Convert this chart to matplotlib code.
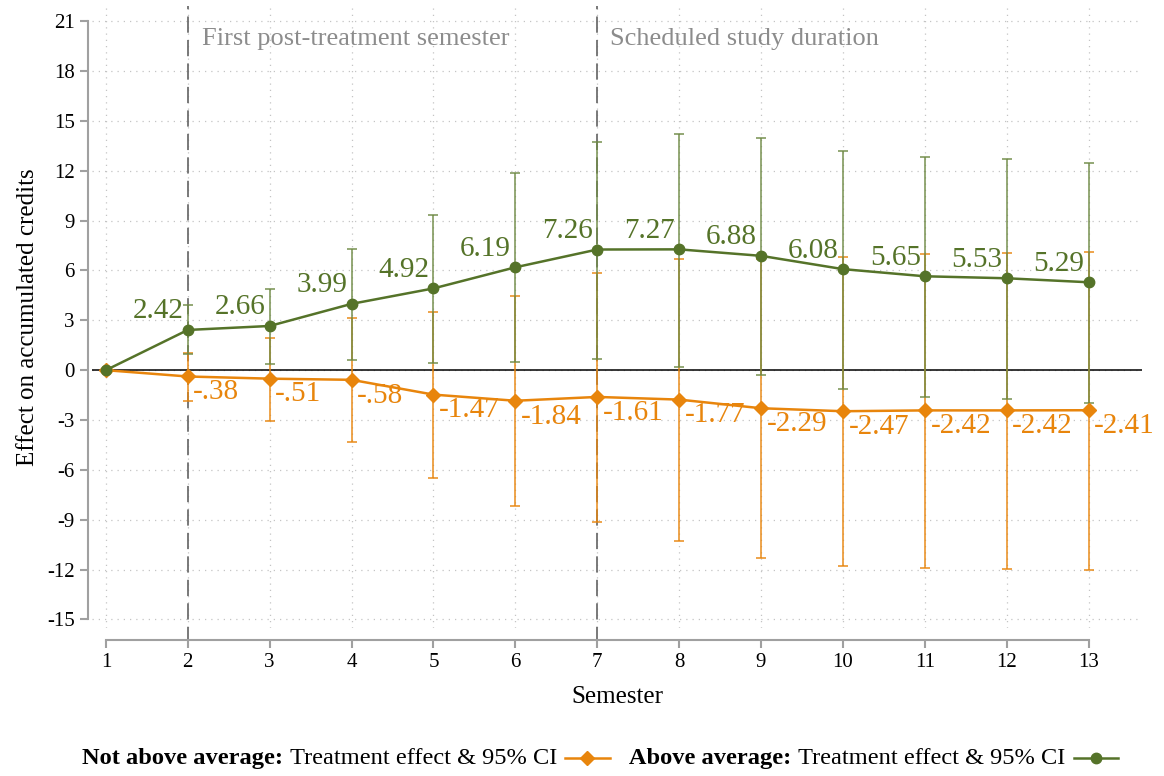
import numpy as np
import matplotlib
matplotlib.use("Agg")
import matplotlib.pyplot as plt
from matplotlib.lines import Line2D
from matplotlib.offsetbox import TextArea, DrawingArea, HPacker, AnchoredOffsetbox

plt.rcParams['font.family'] = ['Liberation Serif', 'DejaVu Serif']
plt.rcParams['axes.unicode_minus'] = False

# data
semester = np.arange(1, 14)
above = [0, 2.42, 2.66, 3.99, 4.92, 6.19, 7.26, 7.27, 6.88, 6.08, 5.65, 5.53, 5.29]
above_lo = [0, 1.0, 0.36, 0.6, 0.42, 0.48, 0.7, 0.2, -0.3, -1.14, -1.6, -1.72, -1.98]
above_hi = [0, 3.9, 4.86, 7.32, 9.32, 11.84, 13.74, 14.2, 13.96, 13.2, 12.8, 12.7, 12.46]
not_above = [0, -0.38, -0.51, -0.58, -1.47, -1.84, -1.61, -1.77, -2.29, -2.47, -2.42, -2.42, -2.41]
not_lo = [0, -1.84, -3.06, -4.34, -6.46, -8.18, -9.12, -10.28, -11.3, -11.8, -11.9, -11.98, -12.02]
not_hi = [0, 1.06, 1.96, 3.12, 3.48, 4.44, 5.84, 6.7, 6.7, 6.8, 7.0, 7.08, 7.12]
above_lbl = ["", "2.42", "2.66", "3.99", "4.92", "6.19", "7.26", "7.27", "6.88", "6.08", "5.65", "5.53", "5.29"]
not_lbl = ["", "-.38", "-.51", "-.58", "-1.47", "-1.84", "-1.61", "-1.77", "-2.29", "-2.47", "-2.42", "-2.42", "-2.41"]
yticks = np.arange(-15, 22, 3)

green = "#557329"
green_ci = "#6f8a45"
orange = "#e8850c"

fig = plt.figure(figsize=(11.64, 7.76), dpi=100)
ax = fig.add_axes([0.079, 0.191, 0.902, 0.801])

ax.set_xlim(0.83, 13.65)
ax.set_ylim(-15.5, 21.9)

# grid
for y in yticks:
    ax.axhline(y, color="#c4c4c4", lw=0.9, ls=(0, (1, 4)), zorder=0)
for x in semester:
    ax.axvline(x, color="#c4c4c4", lw=0.9, ls=(0, (1, 4)), zorder=0)

ax.axhline(0, color="black", lw=1.1, zorder=1)

for xv in [2, 7]:
    ax.axvline(xv, ymin=-0.025, color="#6e6e6e", lw=1.3, ls=(0, (9, 4)), clip_on=False, zorder=1)
ax.text(2.17, 19.9, "First post-treatment semester", color="#8c8c8c", fontsize=19, va="center", ha="left")
ax.text(7.15, 19.9, "Scheduled study duration", color="#8c8c8c", fontsize=19, va="center", ha="left")

# confidence intervals
nl = np.array(not_above)
ax.errorbar(semester, nl, yerr=[nl - np.array(not_lo), np.array(not_hi) - nl], fmt="none",
            ecolor=orange, elinewidth=1.3, capsize=3.5, capthick=1.3, alpha=0.8, zorder=2)
al = np.array(above)
ax.errorbar(semester, al, yerr=[al - np.array(above_lo), np.array(above_hi) - al], fmt="none",
            ecolor=green_ci, elinewidth=1.3, capsize=3.5, capthick=1.3, alpha=0.8, zorder=3)

ax.plot(semester, not_above, color=orange, lw=1.8, marker="D", ms=7, zorder=4)
ax.plot(semester, above, color=green, lw=1.8, marker="o", ms=7.5, zorder=5)

for x, y, t in zip(semester, above, above_lbl):
    if t:
        ax.annotate(t, (x, y), xytext=(-3, 4), textcoords="offset points",
                    ha="right", va="bottom", color=green, fontsize=21)
for x, y, t in zip(semester, not_above, not_lbl):
    if t:
        ax.annotate(t, (x, y), xytext=(4, -2), textcoords="offset points",
                    ha="left", va="top", color=orange, fontsize=21)

# axes styling
for s in ["top", "right"]:
    ax.spines[s].set_visible(False)
ax.spines["left"].set_bounds(-15, 21)
ax.spines["left"].set_position(("outward", 3))
ax.spines["bottom"].set_bounds(1, 13)
ax.spines["bottom"].set_position(("outward", 9))
for s in ["left", "bottom"]:
    ax.spines[s].set_color("#a0a0a0")
    ax.spines[s].set_linewidth(1.5)
ax.set_yticks(yticks)
ax.set_xticks(semester)
ax.tick_params(axis="both", colors="#a0a0a0", labelcolor="black", labelsize=15, length=6, width=1.5)
ax.set_xlabel("Semester", fontsize=18, labelpad=10)
ax.set_ylabel("Effect on accumulated credits", fontsize=18, labelpad=6)


# legend built by hand: bold group name + plain text + key
def key(color, marker, ms):
    da = DrawingArea(34, 12, 0, 0)
    da.add_artist(Line2D([1, 33], [6, 6], color=color, lw=1.8))
    da.add_artist(Line2D([17], [6], color=color, marker=marker, ms=ms))
    return da


tp = dict(fontsize=17.6)
parts = [TextArea("Not above average:", textprops=dict(fontweight="bold", **tp)),
         TextArea("Treatment effect & 95% CI", textprops=tp),
         key(orange, "D", 7),
         TextArea("  Above average:", textprops=dict(fontweight="bold", **tp)),
         TextArea("Treatment effect & 95% CI", textprops=tp),
         key(green, "o", 7.5)]
box = HPacker(children=parts, align="center", pad=0, sep=5)
anch = AnchoredOffsetbox(loc="center", child=box, frameon=False, pad=0,
                         bbox_to_anchor=(0.516, 0.023), bbox_transform=fig.transFigure)
fig.add_artist(anch)

fig.savefig("out.png", dpi=100)
